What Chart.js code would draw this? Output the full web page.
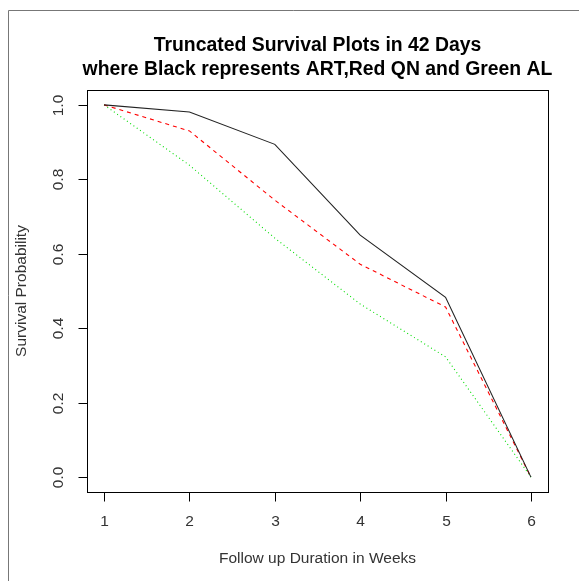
<!DOCTYPE html>
<html><head><meta charset="utf-8">
<script src="https://cdn.jsdelivr.net/npm/chart.js@4"></script>
<style>html,body{margin:0;padding:0;background:#fff;}#wrap{width:579px;height:581px;}</style>
</head><body><div id="wrap"><canvas id="c" width="579" height="581"></canvas></div>
<script>
const weeks = [1, 2, 3, 4, 5, 6];
const artSurv = [1.0, 0.981, 0.894, 0.650, 0.483, 0.0];
const qnSurv  = [1.0, 0.930, 0.744, 0.572, 0.457, 0.0];
const alSurv  = [1.0, 0.838, 0.642, 0.465, 0.323, 0.0];
const xTicks = [1, 2, 3, 4, 5, 6];
const yTicks = [0, 0.2, 0.4, 0.6, 0.8, 1.0];
const yTickLabels = ['0.0', '0.2', '0.4', '0.6', '0.8', '1.0'];
const titleLines = ['Truncated Survival Plots in 42 Days', 'where Black represents ART,Red QN and Green AL'];
const xTitle = 'Follow up Duration in Weeks';
const yTitle = 'Survival Probability';

function pts(vals) { return weeks.map((w, i) => ({x: w, y: vals[i]})); }

const rAxes = {
  id: 'rAxes',
  afterDraw(chart) {
    const ctx = chart.ctx, a = chart.chartArea;
    const xs = chart.scales.x, ys = chart.scales.y;
    ctx.save();
    // outer figure border
    ctx.strokeStyle = '#777'; ctx.lineWidth = 1;
    ctx.beginPath(); ctx.moveTo(8.5, 581); ctx.lineTo(8.5, 10.5); ctx.lineTo(579, 10.5); ctx.stroke();
    // plot box
    ctx.strokeStyle = '#000';
    ctx.strokeRect(Math.round(a.left) + 0.5, Math.round(a.top) + 0.5, Math.round(a.right - a.left), Math.round(a.bottom - a.top));
    // x ticks
    ctx.fillStyle = '#333';
    ctx.font = '15.5px "Liberation Sans", Arial, sans-serif';
    ctx.textAlign = 'center'; ctx.textBaseline = 'middle';
    const by = Math.round(a.bottom) + 0.5;
    xTicks.forEach(v => {
      const px = Math.round(xs.getPixelForValue(v)) + 0.5;
      ctx.beginPath(); ctx.moveTo(px, by); ctx.lineTo(px, by + 9); ctx.stroke();
      ctx.fillText(String(v), px, 522);
    });
    // y ticks
    const lx = Math.round(a.left) + 0.5;
    yTicks.forEach((v, i) => {
      const py = Math.round(ys.getPixelForValue(v)) + 0.5;
      ctx.beginPath(); ctx.moveTo(lx, py); ctx.lineTo(lx - 9, py); ctx.stroke();
      ctx.save(); ctx.translate(59, py); ctx.rotate(-Math.PI / 2);
      ctx.fillText(yTickLabels[i], 0, 0); ctx.restore();
    });
    // axis titles
    ctx.fillText(xTitle, (a.left + a.right) / 2, 559);
    ctx.save(); ctx.translate(22, (a.top + a.bottom) / 2); ctx.rotate(-Math.PI / 2);
    ctx.fillText(yTitle, 0, 0); ctx.restore();
    // main title
    ctx.fillStyle = '#000';
    ctx.font = 'bold 19.4px "Liberation Sans", Arial, sans-serif';
    const cx = (a.left + a.right) / 2;
    ctx.fillText(titleLines[0], cx, 46);
    ctx.fillText(titleLines[1], cx, 70);
    ctx.restore();
  }
};

new Chart(document.getElementById('c'), {
  type: 'line',
  data: {
    datasets: [
      {label: 'ART', data: pts(artSurv), borderColor: '#222', borderWidth: 1.1, pointRadius: 0, tension: 0, fill: false},
      {label: 'QN', data: pts(qnSurv), borderColor: '#ff0000', borderWidth: 1.1, borderDash: [4, 4], pointRadius: 0, tension: 0, fill: false},
      {label: 'AL', data: pts(alSurv), borderColor: '#00dd00', borderWidth: 1.1, borderDash: [1, 3], pointRadius: 0, tension: 0, fill: false}
    ]
  },
  options: {
    responsive: false, animation: false, devicePixelRatio: 1,
    layout: {padding: {left: 87, right: 31, top: 90, bottom: 89}},
    scales: {
      x: {type: 'linear', min: 0.8, max: 6.2, display: false},
      y: {type: 'linear', min: -0.04, max: 1.04, display: false}
    },
    plugins: {legend: {display: false}, title: {display: false}, tooltip: {enabled: false}}
  },
  plugins: [rAxes]
});
</script></body></html>
